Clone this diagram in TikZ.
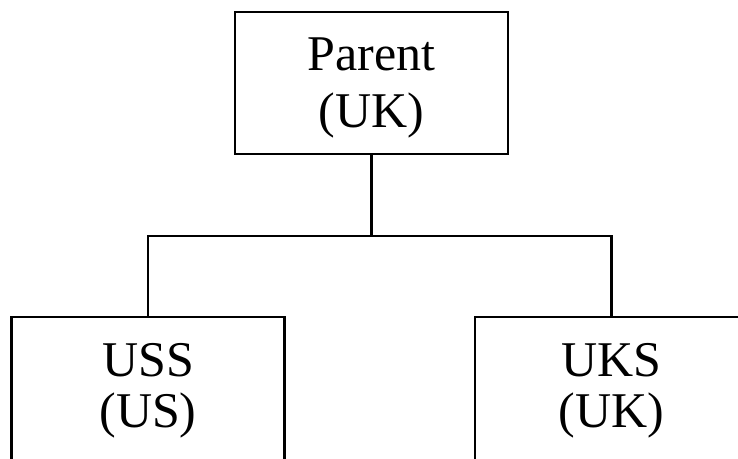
\documentclass[tikz,border=0pt]{standalone}
\usepackage{fontspec}
\setmainfont{Liberation Serif}

\begin{document}
\begin{tikzpicture}[x=1pt,y=-1pt]
		\clip (0,0) rectangle (738,458);
		\begin{scope}[every node/.style={draw,line width=2.2pt,rectangle,
			minimum width=273pt,align=center}]
			\node[minimum height=142pt,text height=88pt,text depth=0pt,
				font=\fontsize{50}{57}\selectfont] (parent) at (371.5,83) {Parent\\(UK)};
			\node[minimum height=148pt,font=\fontsize{50}{51}\selectfont] (uss) at (148,391) {USS\\(US)};
			\node[minimum height=148pt,font=\fontsize{50}{51}\selectfont] (uks) at (611.5,391) {UKS\\(UK)};
		\end{scope}
		\coordinate (split) at (371.5,236);
		\begin{scope}[line width=2.2pt]
			\draw (parent.south) -- (split) -| (uss.north);
			\draw (split) -| (uks.north);
		\end{scope}
	\end{tikzpicture}
\end{document}
